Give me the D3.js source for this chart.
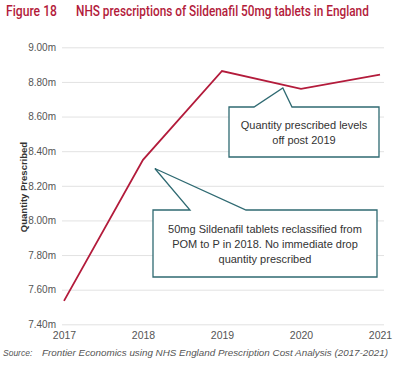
<!DOCTYPE html>
<html>
<head>
<meta charset="utf-8">
<script src="https://cdn.jsdelivr.net/npm/d3@7"></script>
<style>
  body { margin: 0; background: #fff; }
  svg { display: block; font-family: "Liberation Sans", Arial, sans-serif; }
</style>
</head>
<body>
<script>
// data
var years = [2017, 2018, 2019, 2020, 2021];
var quantity = [7.535, 8.35, 8.863, 8.76, 8.842];   // millions
var yTicks = [7.4, 7.6, 7.8, 8.0, 8.2, 8.4, 8.6, 8.8, 9.0];

var width = 400, height = 365;
var red = "#b31b3b", teal = "#2f6a72";
var font = "'Liberation Sans', Arial, sans-serif";

var svg = d3.select("body").append("svg")
    .attr("width", width)
    .attr("height", height);

var x = d3.scaleLinear()
    .domain([2017, 2021])
    .range([64, 380]);

var y = d3.scaleLinear()
    .domain([7.4, 9.0])
    .range([324.3, 47.3]);

// title: condensed look, squeezed horizontally to the reference width
function squeezed(str, x0, w) {
  var g = svg.append("g").attr("transform", "translate(" + x0 + ",16)");
  var t = g.append("text")
      .attr("fill", red)
      .style("font-family", "Roboto, 'Liberation Sans', sans-serif")
      .style("font-size", "15px")
      .style("font-weight", "500")
      .text(str);
  var k = w / t.node().getComputedTextLength();
  g.attr("transform", "translate(" + x0 + ",16) scale(" + k + ",1)");
}
squeezed("Figure 18", 6, 51);
squeezed("NHS prescriptions of Sildenafil 50mg tablets in England", 76, 293);

// gridlines + y labels
var yAxis = d3.axisLeft(y)
    .tickValues(yTicks)
    .tickSize(-(384 - 62))
    .tickPadding(6)
    .tickFormat(function(d) { return d3.format(".2f")(d) + "m"; });

svg.append("g")
    .attr("transform", "translate(62,0)")
    .call(yAxis)
    .call(function(g) {
      g.select(".domain").remove();
      g.selectAll(".tick line").attr("stroke", "#e2e2e2");
      g.selectAll(".tick text")
        .attr("fill", "#555")
        .style("font-family", font)
        .style("font-size", "10px");
    });

// x labels
var xAxis = d3.axisBottom(x)
    .tickValues(years)
    .tickSize(0)
    .tickPadding(6)
    .tickFormat(d3.format("d"));

svg.append("g")
    .attr("transform", "translate(0,326)")
    .call(xAxis)
    .call(function(g) {
      g.select(".domain").remove();
      g.selectAll(".tick text")
        .attr("fill", "#555")
        .style("font-family", font)
        .style("font-size", "10.5px");
    });

// y axis title
svg.append("text")
    .attr("transform", "translate(27,187) rotate(-90)")
    .attr("text-anchor", "middle")
    .attr("fill", "#333")
    .style("font-size", "9.5px")
    .style("font-weight", "bold")
    .text("Quantity Prescribed");

// the series line
var line = d3.line()
    .x(function(d, i) { return x(years[i]); })
    .y(function(d) { return y(d); });

svg.append("path")
    .datum(quantity)
    .attr("d", line)
    .attr("fill", "none")
    .attr("stroke", red)
    .attr("stroke-width", 1.8);

// callouts
function callout(box, base, tip, lines) {
  var p = d3.path();
  p.moveTo(box[0], box[1]);
  p.lineTo(base[0], box[1]);
  p.lineTo(tip[0], tip[1]);
  p.lineTo(base[1], box[1]);
  p.lineTo(box[2], box[1]);
  p.lineTo(box[2], box[3]);
  p.lineTo(box[0], box[3]);
  p.closePath();
  svg.append("path")
      .attr("d", p.toString())
      .attr("fill", "#fff")
      .attr("stroke", teal)
      .attr("stroke-width", 1.3);
  var cx = (box[0] + box[2]) / 2;
  var midY = (box[1] + box[3]) / 2;
  var lh = 15;
  var y0 = midY - (lines.length - 1) * lh / 2 + 4;
  svg.append("text")
      .attr("text-anchor", "middle")
      .attr("fill", "#333")
      .style("font-size", "11px")
      .selectAll("tspan")
      .data(lines)
      .enter().append("tspan")
      .attr("x", cx)
      .attr("y", function(d, i) { return y0 + i * lh; })
      .text(function(d) { return d; });
}

callout([229, 107, 379, 157], [254, 292], [x(2019.77), y(8.765)],
  ["Quantity prescribed levels", "off post 2019"]);

callout([153, 210, 377, 277], [190, 246], [x(2018.15), y(8.30)],
  ["50mg Sildenafil tablets reclassified from",
   "POM to P in 2018. No immediate drop",
   "quantity prescribed"]);

// source
var src = svg.append("g")
    .attr("fill", "#555")
    .style("font-size", "8.5px")
    .style("font-style", "italic");
src.append("text").attr("x", 3).attr("y", 356).text("Source:");
src.append("text").attr("x", 42).attr("y", 356)
    .attr("textLength", 346)
    .attr("lengthAdjust", "spacingAndGlyphs")
    .text("Frontier Economics using NHS England Prescription Cost Analysis (2017-2021)");
</script>
</body>
</html>
